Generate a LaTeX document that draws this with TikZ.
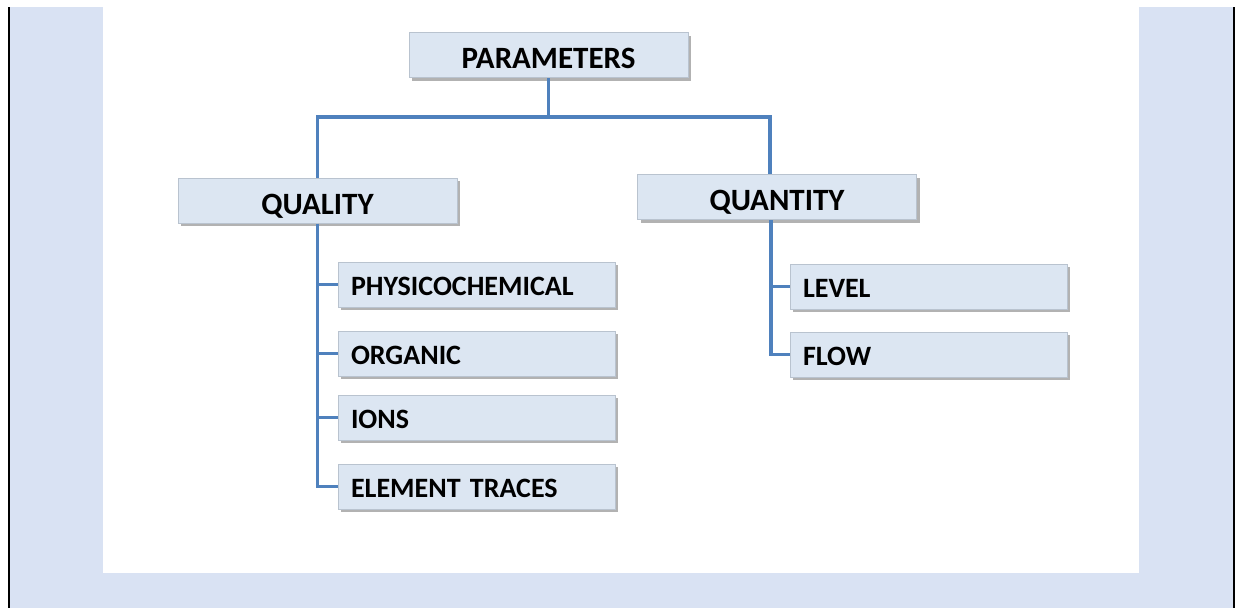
\documentclass[tikz,border=0pt]{standalone}
\usepackage{fontspec}
\setmainfont{Carlito}
\usetikzlibrary{positioning,shadows}
\definecolor{pagebg}{HTML}{D9E2F3}
\definecolor{boxfill}{HTML}{DCE6F2}
\definecolor{boxline}{HTML}{B9C3CF}
\definecolor{linkblue}{HTML}{4F81BD}

\begin{document}
\begin{tikzpicture}[x=1pt,y=-1pt,
    box/.style={draw=boxline,fill=boxfill,line width=1pt,minimum height=45pt,
      text depth=0pt,
      drop shadow={shadow xshift=3pt,shadow yshift=-3pt,fill=black!50,opacity=0.6}},
    topbox/.style={box,minimum width=279pt,text height=27pt,
      font=\bfseries\fontsize{31}{34}\selectfont},
    leafbox/.style={box,inner xsep=13pt,text width=251pt,align=left,text height=22pt,
      font=\bfseries\fontsize{28}{31}\selectfont},
    link/.style={draw=linkblue,line width=3.5pt}]
  \useasboundingbox (0,0) rectangle (1235,608);
  \fill[pagebg] (10,7) rectangle (1233,608);
  \fill[white] (103,7) rectangle (1139,573);
  \draw[line width=2.5pt] (9,7) -- (9,608);
  \draw[line width=2.5pt] (1234,7) -- (1234,608);

  % top levels
  \node[topbox] (params)   at (548.5,55)  {PARAMETERS};
  \node[topbox] (quality)  at (317.5,200.5) {QUALITY};
  \node[topbox] (quantity) at (777,197)   {QUANTITY};

  % leaves
  \node[leafbox] (phys)    at (476.5,284.5) {PHYSICOCHEMICAL};
  \node[leafbox] (organic) at (476.5,353.5) {ORGANIC};
  \node[leafbox] (ions)    at (476.5,417.5) {IONS};
  \node[leafbox] (traces)  at (476.5,486.5) {ELEMENT TRACES};
  \node[leafbox] (level)   at (928.5,286.5) {LEVEL};
  \node[leafbox] (flow)    at (928.5,354.5) {FLOW};

  \coordinate (bus) at (548.5,117);
  \draw[link] (params.south) -- (bus);
  \draw[link] (quality.north) |- (bus) -| ([xshift=-7pt]quantity.north);

  \draw[link] (quality.south) |- (traces.west);
  \foreach \n in {phys,organic,ions}
    \draw[link] (quality.south |- \n.west) -- (\n.west);

  \draw[link] ([xshift=-6pt]quantity.south) |- (flow.west);
  \draw[link] ([xshift=-6pt]quantity.south |- level.west) -- (level.west);
\end{tikzpicture}
\end{document}
